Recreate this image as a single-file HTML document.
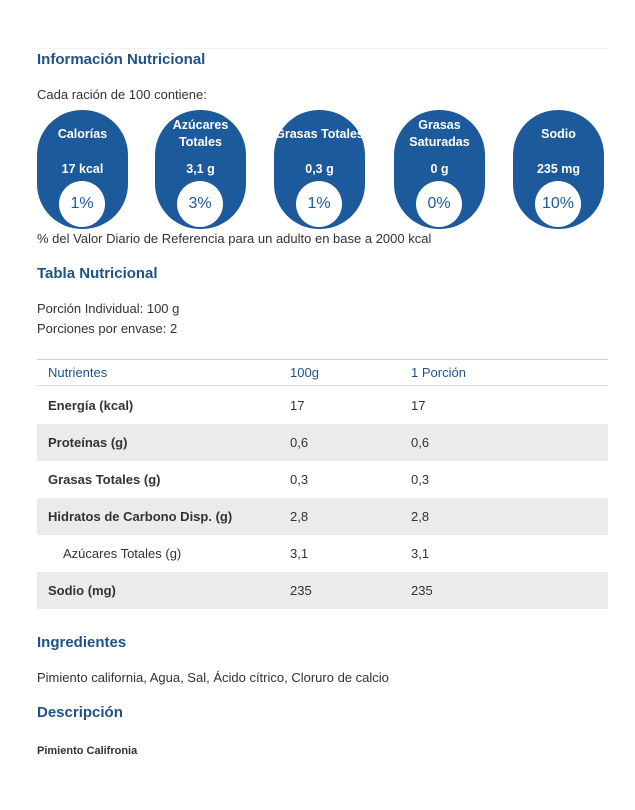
<!DOCTYPE html>
<html><head><meta charset="utf-8">
<style>
body{margin:0;width:635px;height:810px;background:#fff;font-family:"Liberation Sans",sans-serif;color:#333;position:relative;overflow:hidden}
.a{position:absolute;white-space:nowrap}
h2{margin:0;font-size:15px;font-weight:bold;color:#1f5287;position:absolute}
.t{font-size:13px;color:#333}
.pill{position:absolute;top:110px;width:91px;height:119px;border-radius:45px;background:#1d5a9c;color:#fff;text-align:center;font-weight:bold;font-size:12.5px}
.pill .n{position:absolute;left:0;right:0;display:flex;align-items:center;justify-content:center;height:40px;top:4px;line-height:17px}
.pill .v{position:absolute;left:0;right:0;top:52px}
.pill .c{position:absolute;left:22px;top:71px;width:46px;height:46px;border-radius:50%;background:#fff;color:#1d5a9c;font-weight:normal;font-size:16px;line-height:46px}
.row{position:absolute;left:37px;width:571px;height:37px;font-size:13px}
.row.g{background:#ebebeb}
.row span{position:absolute;top:11px}
</style></head><body>
<div class="a" style="left:37px;top:48px;width:571px;border-top:1px solid #f2f2f2"></div>
<h2 style="left:37px;top:51px">Información Nutricional</h2>
<div class="a t" style="left:37px;top:87px">Cada ración de 100 contiene:</div>

<div class="pill" style="left:37px"><div class="n">Calorías</div><div class="v">17 kcal</div><div class="c">1%</div></div>
<div class="pill" style="left:155px"><div class="n">Azúcares<br>Totales</div><div class="v">3,1 g</div><div class="c">3%</div></div>
<div class="pill" style="left:274px"><div class="n" style="left:-6px;right:-6px">Grasas Totales</div><div class="v">0,3 g</div><div class="c">1%</div></div>
<div class="pill" style="left:394px"><div class="n">Grasas<br>Saturadas</div><div class="v">0 g</div><div class="c">0%</div></div>
<div class="pill" style="left:513px"><div class="n">Sodio</div><div class="v">235 mg</div><div class="c">10%</div></div>

<div class="a t" style="left:37px;top:231px">% del Valor Diario de Referencia para un adulto en base a 2000 kcal</div>
<h2 style="left:37px;top:265px">Tabla Nutricional</h2>
<div class="a t" style="left:37px;top:301px">Porción Individual: 100 g</div>
<div class="a t" style="left:37px;top:321px">Porciones por envase: 2</div>

<div class="row" style="top:359px;height:27px;border-top:1px solid #ccc;border-bottom:1px solid #ddd;box-sizing:border-box;color:#1f5287"><span style="left:11px;top:5px">Nutrientes</span><span style="left:253px;top:5px">100g</span><span style="left:374px;top:5px">1 Porción</span></div>
<div class="row" style="top:387px"><span style="left:11px;font-weight:bold">Energía (kcal)</span><span style="left:253px">17</span><span style="left:374px">17</span></div>
<div class="row g" style="top:424px"><span style="left:11px;font-weight:bold">Proteínas (g)</span><span style="left:253px">0,6</span><span style="left:374px">0,6</span></div>
<div class="row" style="top:461px"><span style="left:11px;font-weight:bold">Grasas Totales (g)</span><span style="left:253px">0,3</span><span style="left:374px">0,3</span></div>
<div class="row g" style="top:498px"><span style="left:11px;font-weight:bold">Hidratos de Carbono Disp. (g)</span><span style="left:253px">2,8</span><span style="left:374px">2,8</span></div>
<div class="row" style="top:535px"><span style="left:26px">Azúcares Totales (g)</span><span style="left:253px">3,1</span><span style="left:374px">3,1</span></div>
<div class="row g" style="top:572px"><span style="left:11px;font-weight:bold">Sodio (mg)</span><span style="left:253px">235</span><span style="left:374px">235</span></div>

<h2 style="left:37px;top:634px">Ingredientes</h2>
<div class="a t" style="left:37px;top:670px">Pimiento california, Agua, Sal, Ácido cítrico, Cloruro de calcio</div>
<h2 style="left:37px;top:704px">Descripción</h2>
<div class="a" style="left:37px;top:745px;font-size:11px;font-weight:bold;color:#333">Pimiento Califronia</div>
</body></html>
